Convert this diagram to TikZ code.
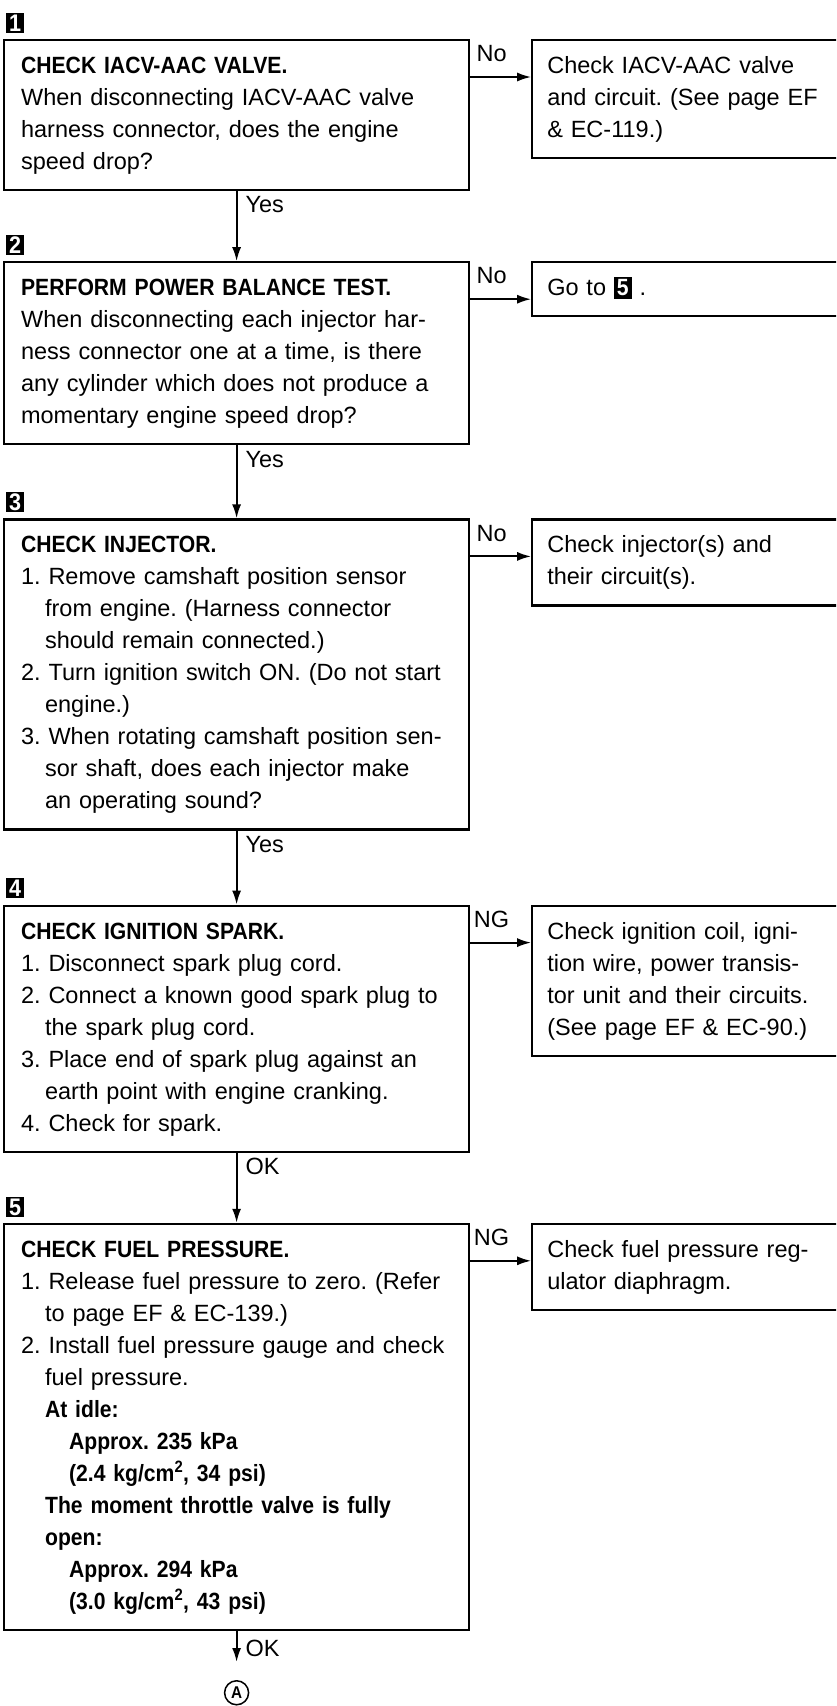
\documentclass[tikz,border=0pt]{standalone}
\usepackage{fontspec}
\setmainfont{Liberation Sans}[BoldFeatures={FakeStretch=0.9}]
\usetikzlibrary{positioning,arrows.meta}
\frenchspacing

\newcommand{\indnt}{\hspace*{24pt}}
\newcommand{\stepno}[1]{{\setlength{\fboxsep}{3pt}\colorbox{black}{\textcolor{white}{\bfseries #1}}}}

\begin{document}
\begin{tikzpicture}[x=1pt,y=-1pt,
	every node/.style={font=\fontsize{23.5}{32}\selectfont},
	check/.style={draw,line width=2.2pt,align=left,text width=431pt,
		inner xsep=17pt,inner ysep=11pt,
		execute at begin node=\strut,execute at end node=\strut},
	fix/.style={check,text width=300pt,inner xsep=15pt},
	badge/.style={fill=black,text=white,font=\fontsize{24}{24}\selectfont\bfseries,
		inner xsep=3pt,inner ysep=1.5pt,text height=17pt,text depth=0pt},
	lbl/.style={font=\fontsize{23.5}{24}\selectfont,inner sep=2pt},
	arr/.style={line width=2pt,-{Latex[length=14pt,width=9pt]}}]
	\useasboundingbox (0,0) rectangle (836,1706);
	\clip (0,0) rectangle (836,1706);
	
	%main column of checks
	\node[check,anchor=north west] (b1) at (3,39) {\textbf{CHECK IACV-AAC VALVE.}\\
		When disconnecting IACV-AAC valve\\
		harness connector, does the engine\\
		speed drop?};
	\node[check,below=70pt of b1] (b2) {\textbf{PERFORM POWER BALANCE TEST.}\\
		When disconnecting each injector har-\\
		ness connector one at a time, is there\\
		any cylinder which does not produce a\\
		momentary engine speed drop?};
	\node[check,below=73pt of b2] (b3) {\textbf{CHECK INJECTOR.}\\
		1. Remove camshaft position sensor\\
		\indnt from engine. (Harness connector\\
		\indnt should remain connected.)\\
		2. Turn ignition switch ON. (Do not start\\
		\indnt engine.)\\
		3. When rotating camshaft position sen-\\
		\indnt sor shaft, does each injector make\\
		\indnt an operating sound?};
	\node[check,below=74pt of b3] (b4) {\textbf{CHECK IGNITION SPARK.}\\
		1. Disconnect spark plug cord.\\
		2. Connect a known good spark plug to\\
		\indnt the spark plug cord.\\
		3. Place end of spark plug against an\\
		\indnt earth point with engine cranking.\\
		4. Check for spark.};
	\node[check,below=70pt of b4] (b5) {\textbf{CHECK FUEL PRESSURE.}\\
		1. Release fuel pressure to zero. (Refer\\
		\indnt to page EF \& EC-139.)\\
		2. Install fuel pressure gauge and check\\
		\indnt fuel pressure.\\
		\indnt\textbf{At idle:}\\
		\indnt\indnt\textbf{Approx. 235 kPa}\\
		\indnt\indnt\textbf{(2.4 kg/cm\textsuperscript{2}, 34 psi)}\\
		\indnt\textbf{The moment throttle valve is fully}\\
		\indnt\textbf{open:}\\
		\indnt\indnt\textbf{Approx. 294 kPa}\\
		\indnt\indnt\textbf{(3.0 kg/cm\textsuperscript{2}, 43 psi)}};
	
	%step numbers
	\foreach \i in {1,...,5}
		\node[badge,above=6pt of b\i.north west,anchor=south west,xshift=3pt] (n\i) {\i};
	
	%repairs on the right, cut by the page edge
	\node[fix,right=61pt of b1.north east,anchor=north west] (r1) {Check IACV-AAC valve\\
		and circuit. (See page EF\\
		\& EC-119.)};
	\node[fix,right=61pt of b2.north east,anchor=north west] (r2) {Go to \stepno{5} .};
	\node[fix,right=61pt of b3.north east,anchor=north west] (r3) {Check injector(s) and\\
		their circuit(s).};
	\node[fix,right=61pt of b4.north east,anchor=north west] (r4) {Check ignition coil, igni-\\
		tion wire, power transis-\\
		tor unit and their circuits.\\
		(See page EF \& EC-90.)};
	\node[fix,right=61pt of b5.north east,anchor=north west] (r5) {Check fuel pressure reg-\\
		ulator diaphragm.};
	
	\node[circle,draw,line width=1.5pt,minimum size=24pt,inner sep=0pt,
		font=\fontsize{17}{17}\selectfont\bfseries,below=49pt of b5] (ca) {A};
	
	%putting arrows and labels:
	\foreach \i/\t in {1/No,2/No,3/No,4/NG,5/NG}
		\draw[arr] ([yshift=-38pt]b\i.north east) -- node[lbl,above=12pt,pos=.35]{\t} ([yshift=-38pt]r\i.north west);
	\foreach \i/\j/\t in {1/2/Yes,2/3/Yes,3/4/Yes,4/5/OK}
		\draw[arr] (b\i) -- node[lbl,right=6pt,pos=.19]{\t} (b\j);
	\draw[arr,shorten >=18pt] (b5) -- node[lbl,right=6pt,pos=.36]{OK} (ca);
\end{tikzpicture}
\end{document}
